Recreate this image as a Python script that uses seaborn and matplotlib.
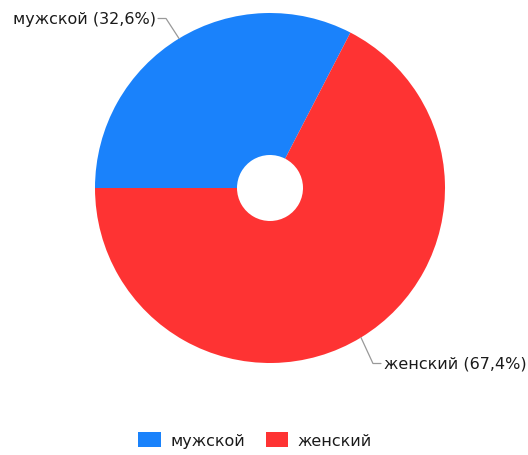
import numpy as np
import matplotlib
matplotlib.use("Agg")
import matplotlib.pyplot as plt
import seaborn as sns
from matplotlib.patches import Patch

categories = ["мужской", "женский"]
values = [32.6, 67.4]
colors = ["#1a82fb", "#fe3333"]
label_texts = ["мужской (32,6%)", "женский (67,4%)"]

sns.set_theme(style="white")
plt.rcParams['font.family'] = ['DejaVu Sans']

W, H = 528, 456
fig = plt.figure(figsize=(W / 100, H / 100), dpi=100)
ax = fig.add_axes([0, 0, 1, 1])

cx, cy, R = 270, H - 189, 175
hole = 33
wedges, _ = ax.pie(values, colors=colors, startangle=180, counterclock=False,
                   center=(cx, cy), radius=R, frame=True,
                   wedgeprops=dict(width=R - hole, edgecolor='none', linewidth=0))
ax.set_xlim(0, W)
ax.set_ylim(0, H)
ax.set_aspect('equal')
ax.axis('off')

fs = 11.5
# leader lines and labels
for i, w in enumerate(wedges):
    mid = np.deg2rad((w.theta1 + w.theta2) / 2)
    px, py = cx + R * np.cos(mid), cy + R * np.sin(mid)
    if np.cos(mid) < 0:
        kx, ky = px - 13, py + 20
        ex = kx - 8
        ax.plot([px, kx, ex], [py, ky, ky], color='#999999', lw=0.9)
        ax.text(ex - 2, ky, label_texts[i], ha='right', va='center', fontsize=fs, color='#1a1a1a')
    else:
        kx, ky = px + 12, py - 26
        ex = kx + 8
        ax.plot([px, kx, ex], [py, ky, ky], color='#999999', lw=0.9)
        ax.text(ex + 3, ky, label_texts[i], ha='left', va='center', fontsize=fs, color='#1a1a1a')

handles = [Patch(facecolor=c, edgecolor='none') for c in colors]
fig.legend(handles, categories, loc='center', bbox_to_anchor=(255 / W, 1 - 441 / H),
           ncol=2, frameon=False, fontsize=fs, handlelength=1.4, handleheight=1.1,
           columnspacing=1.3, handletextpad=0.6, labelcolor='#1a1a1a')

fig.savefig("out.png", dpi=100)
